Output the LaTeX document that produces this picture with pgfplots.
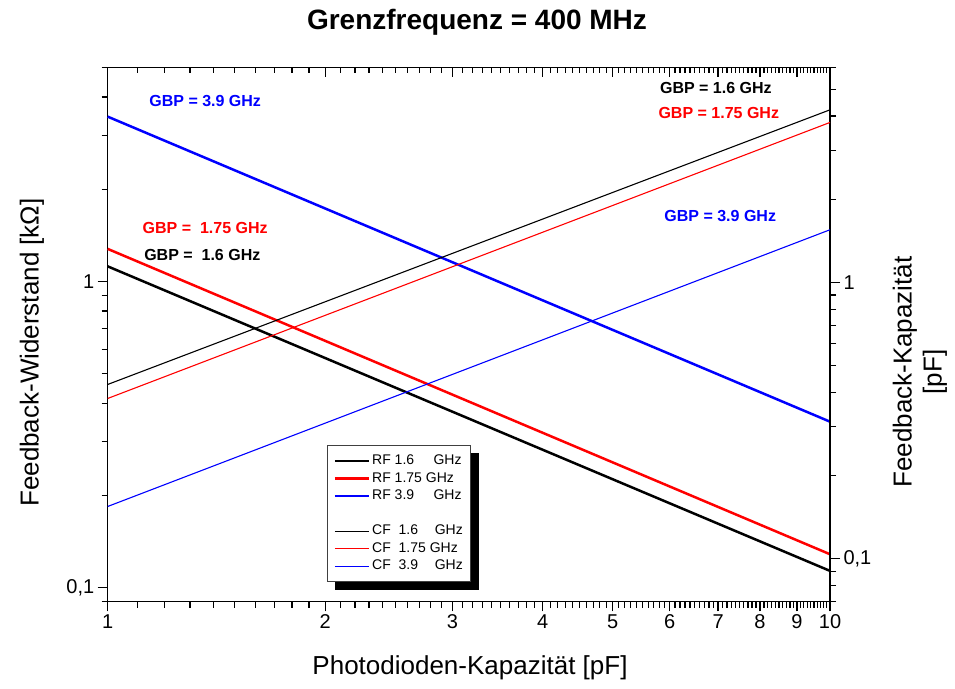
\documentclass[border=0pt]{standalone}
\usepackage{fontspec}
\setmainfont{Liberation Sans}
\usepackage{pgfplots}
\pgfplotsset{compat=1.18}
\pgfdeclarelayer{background}
\pgfsetlayers{background,main}
\definecolor{cblue}{RGB}{0,0,255}
\definecolor{cred}{RGB}{255,0,0}
\begin{document}
\begin{tikzpicture}[x=1bp,y=1bp]
% left axis: feedback resistance (kOhm)
\begin{axis}[
  scale only axis, width=722.3bp, height=534.2bp,
  at={(0,0)}, anchor=south west,
  xmode=log, ymode=log, xmin=1, xmax=10,
  clip=false,
  tick style={black, line width=1.2bp},
  major tick length=10bp, minor tick length=6bp,
  axis line style={line width=1.4bp},
  tick label style={font=\fontsize{20bp}{24bp}\selectfont},
  xtick={1,2,3,4,5,6,7,8,9,10},
  minor xtick={},
  axis x line*=bottom, axis y line*=left,
  ymin=0.09, ymax=5,
  xtick align=outside, ytick align=outside,
  xticklabels={1,2,3,4,5,6,7,8,9,10},
  ytick={0.1,1}, yticklabels={{0,1},{1}},
  minor ytick={0.09,0.2,0.3,0.4,0.5,0.6,0.7,0.8,0.9,2,3,4,5},
  xlabel={Photodioden-Kapazität [pF]},
  ylabel={Feedback-Widerstand [kΩ]},
  every axis x label/.style={at={(axis description cs:0.5016,-0.1245)},anchor=center,font=\fontsize{26bp}{30bp}\selectfont},
  every axis y label/.style={at={(axis description cs:-0.1048,0.466)},rotate=90,anchor=center,font=\fontsize{26bp}{30bp}\selectfont},
]
\addplot[black, line width=2.5bp] coordinates {(1,1.119) (10,0.1133)};
\addplot[cred, line width=2.5bp] coordinates {(1,1.276) (10,0.1284)};
\addplot[cblue, line width=2.5bp] coordinates {(1,3.45) (10,0.348)};
% minor x ticks (bottom, outward) and (top, inward)
\pgfplotsinvokeforeach{1.1,1.2,1.3,1.4,1.5,1.6,1.7,1.8,1.9,2.1,2.2,2.3,2.4,2.5,2.6,2.7,2.8,2.9,3.1,3.2,3.3,3.4,3.5,3.6,3.7,3.8,3.9,4.1,4.2,4.3,4.4,4.5,4.6,4.7,4.8,4.9,5.1,5.2,5.3,5.4,5.5,5.6,5.7,5.8,5.9,6.1,6.2,6.3,6.4,6.5,6.6,6.7,6.8,6.9,7.1,7.2,7.3,7.4,7.5,7.6,7.7,7.8,7.9,8.1,8.2,8.3,8.4,8.5,8.6,8.7,8.8,8.9,9.1,9.2,9.3,9.4,9.5,9.6,9.7,9.8,9.9}{
  \draw[black, line width=1.2bp] (axis cs:#1,0.09) -- ([yshift=-6bp]axis cs:#1,0.09);
  \draw[black, line width=1.2bp] (axis cs:#1,5) -- ([yshift=-6bp]axis cs:#1,5);
}
\node[font=\bfseries\fontsize{16bp}{19bp}\selectfont, text=cblue] at (rel axis cs:0.135,0.937) {GBP = 3.9 GHz};
\node[font=\bfseries\fontsize{16bp}{19bp}\selectfont, text=black] at (rel axis cs:0.842,0.961) {GBP = 1.6 GHz};
\node[font=\bfseries\fontsize{16bp}{19bp}\selectfont, text=cred] at (rel axis cs:0.846,0.914) {GBP = 1.75 GHz};
\node[font=\bfseries\fontsize{16bp}{19bp}\selectfont, text=cred] at (rel axis cs:0.135,0.699) {GBP = \ 1.75 GHz};
\node[font=\bfseries\fontsize{16bp}{19bp}\selectfont, text=black] at (rel axis cs:0.131,0.649) {GBP = \ 1.6 GHz};
\node[font=\bfseries\fontsize{16bp}{19bp}\selectfont, text=cblue] at (rel axis cs:0.848,0.722) {GBP = 3.9 GHz};
\end{axis}
% right axis: feedback capacitance (pF)
\begin{axis}[
  scale only axis, width=722.3bp, height=534.2bp,
  at={(0,0)}, anchor=south west,
  xmode=log, ymode=log, xmin=1, xmax=10,
  tick style={black, line width=1.2bp},
  major tick length=10bp, minor tick length=6bp,
  axis line style={line width=1.4bp},
  tick label style={font=\fontsize{20bp}{24bp}\selectfont},
  xtick={1,2,3,4,5,6,7,8,9,10},
  minor xtick={},
  axis x line*=top, axis y line*=right,
  ymin=0.07, ymax=6,
  xtick align=inside, ytick align=outside,
  xticklabels={},
  ytick={0.1,1}, yticklabels={{0,1},{1}},
  minor ytick={0.07,0.08,0.09,0.2,0.3,0.4,0.5,0.6,0.7,0.8,0.9,2,3,4,5,6},
  ylabel={Feedback-Kapazität\\{}[pF]},
  every axis y label/.style={at={(axis description cs:1.1246,0.4296)},rotate=90,anchor=center,align=center,font=\fontsize{26bp}{30bp}\selectfont},
  legend image code/.code={\draw[#1] (0bp,0bp) -- (34bp,0bp);},
  legend cell align=left,
  legend style={at={(axis description cs:0.304,0.293)}, anchor=north west,
    name=lgd,
    draw=black!75, line width=0.8bp, fill=white,
    font=\fontsize{14bp}{17.5bp}\selectfont,
    inner xsep=6bp, inner ysep=7bp, row sep=0bp,
    nodes={inner sep=2bp, text height=10.5bp, text depth=3bp}},
]
\addlegendimage{black, line width=2.5bp}
\addlegendentry{RF 1.6\hspace{1.38em}GHz}
\addlegendimage{cred, line width=2.5bp}
\addlegendentry{RF 1.75 GHz}
\addlegendimage{cblue, line width=2.5bp}
\addlegendentry{RF 3.9\hspace{1.38em}GHz}
\addlegendimage{empty legend}
\addlegendentry{}
\addplot[black, line width=1.1bp] coordinates {(1,0.427) (10,4.21)};
\addlegendentry{CF\hspace{0.556em}1.6\hspace{1.19em}GHz}
\addplot[cred, line width=1.1bp] coordinates {(1,0.380) (10,3.79)};
\addlegendentry{CF\hspace{0.556em}1.75 GHz}
\addplot[cblue, line width=1.1bp] coordinates {(1,0.1545) (10,1.55)};
\addlegendentry{CF\hspace{0.556em}3.9\hspace{1.19em}GHz}
\end{axis}
\begin{pgfonlayer}{background}
\fill[black] ([xshift=8bp,yshift=-8bp]lgd.south west) rectangle ([xshift=8bp,yshift=-8bp]lgd.north east);
\end{pgfonlayer}
\node[font=\bfseries\fontsize{28bp}{32bp}\selectfont] at (369.3,579.5) {Grenzfrequenz = 400 MHz};
\pgfresetboundingbox
\path[use as bounding box] (-107.7,-87.5) rectangle (847.3,601.5);
\end{tikzpicture}
\end{document}
